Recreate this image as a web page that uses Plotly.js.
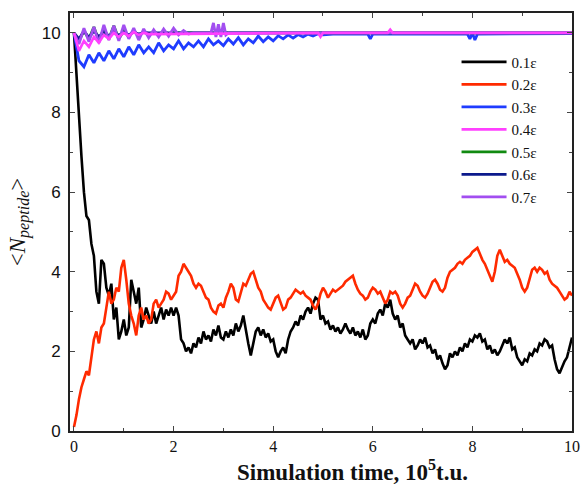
<!DOCTYPE html>
<html>
<head>
<meta charset="utf-8">
<script src="https://cdn.plot.ly/plotly-3.0.1.min.js"></script>
<style>html,body{margin:0;padding:0;background:#fff;}#chart{width:585px;height:490px;}</style>
</head>
<body>
<div id="chart"></div>
<script>
// Series labels
const seriesNames = ["0.1\u03b5","0.2\u03b5","0.3\u03b5","0.4\u03b5","0.5\u03b5","0.6\u03b5","0.7\u03b5"];
const seriesColors = ["#000000","#ff2a00","#1f3cff","#ff40ff","#118a11","#0c1a8c","#a24ef0"];

// 0.1 eps: sampled every 0.05 (10^5 t.u.) from 0 to 10
const black = [
10.0,8.9,7.9,6.9,6.0,5.4,5.3,4.7,4.4,3.5,
3.2,4.3,4.2,3.6,3.4,3.7,2.8,3.1,2.3,2.5,
2.8,2.4,2.6,3.8,3.5,3.2,3.6,2.6,2.8,3.1,
2.9,2.7,3.0,2.7,2.9,3.1,2.8,3.05,2.9,3.1,
2.9,3.1,2.9,2.3,2.2,2.0,2.1,1.95,2.2,2.1,
2.35,2.2,2.5,2.3,2.4,2.25,2.55,2.4,2.65,2.35,
2.3,2.5,2.35,2.55,2.4,2.7,2.5,2.65,2.9,2.5,
2.2,1.9,2.2,2.5,2.6,2.4,2.55,2.35,2.45,2.25,
2.3,2.0,1.85,2.0,2.1,1.95,2.3,2.5,2.6,2.75,
2.65,2.9,2.8,3.0,3.1,2.95,3.2,3.35,3.3,2.8,
2.9,2.7,2.75,2.55,2.65,2.5,2.6,2.45,2.55,2.7,
2.55,2.45,2.6,2.4,2.5,2.35,2.55,2.3,2.4,2.7,
2.8,2.7,2.95,3.05,2.9,3.2,3.1,3.3,2.95,2.8,
2.9,2.6,2.7,2.4,2.3,2.2,2.3,2.05,2.15,2.3,
2.2,2.35,2.1,2.15,1.95,2.05,1.8,1.9,1.7,1.55,
1.65,1.95,1.85,2.0,1.9,2.1,2.0,2.2,2.1,2.3,
2.25,2.4,2.35,2.45,2.25,2.3,2.05,2.15,1.95,2.05,
1.9,2.0,2.15,2.3,2.2,2.35,2.05,2.1,1.85,1.75,
1.65,1.8,1.75,1.95,1.9,2.05,2.0,2.2,2.15,2.3,
2.25,2.1,2.15,1.8,1.55,1.45,1.6,1.75,1.85,2.1,
2.35];

// 0.2 eps: sampled every 0.05 from 0 to 10
const red = [
0.1,0.4,0.8,1.1,1.3,1.5,1.4,1.9,2.3,2.5,
2.2,2.6,2.7,3.1,3.5,3.2,3.3,3.6,3.5,4.1,
4.3,3.8,3.2,2.9,2.7,2.4,2.9,3.1,2.8,2.9,
2.7,2.8,3.2,3.3,3.1,3.2,3.3,3.5,3.45,3.3,
3.4,3.5,3.9,4.0,4.2,4.1,4.0,3.9,3.7,3.6,
3.7,3.65,3.5,3.35,3.3,3.1,3.0,2.95,3.15,3.2,
3.1,3.35,3.5,3.7,3.6,3.3,3.25,3.5,3.7,3.65,
3.8,3.95,4.0,3.8,3.6,3.5,3.3,3.2,3.1,3.05,
3.2,3.35,3.4,3.2,3.05,3.1,3.3,3.35,3.45,3.55,
3.5,3.45,3.5,3.4,3.35,3.3,3.15,3.05,3.2,3.45,
3.6,3.5,3.35,3.45,3.55,3.5,3.55,3.6,3.65,3.75,
3.8,3.85,3.9,3.7,3.55,3.45,3.4,3.3,3.35,3.5,
3.6,3.55,3.45,3.5,3.35,3.2,3.3,3.5,3.45,3.5,
3.4,3.2,3.1,3.2,3.35,3.4,3.55,3.7,3.65,3.5,
3.4,3.35,3.45,3.6,3.75,3.8,3.7,3.55,3.5,3.6,
3.85,4.0,4.05,4.1,4.2,4.25,4.2,4.3,4.35,4.4,
4.5,4.55,4.6,4.45,4.3,4.2,4.05,3.9,3.75,4.0,
4.4,4.55,4.4,4.25,4.3,4.2,4.15,4.1,3.95,3.8,
3.6,3.5,3.6,3.85,4.05,4.1,4.0,4.1,4.05,3.95,
4.0,3.8,3.7,3.65,3.6,3.5,3.4,3.3,3.35,3.5,
3.4];

// 0.3 eps
const blueT = [0,0.1,0.2,0.3,0.4,0.5,0.6,0.7,0.8,0.9,1.0,1.1,1.2,1.3,1.4,1.5,1.6,1.7,1.8,1.9,2.0,
2.1,2.2,2.3,2.4,2.5,2.6,2.7,2.8,2.9,3.0,3.1,3.2,3.3,3.4,3.5,3.6,3.7,3.8,3.9,4.0,
4.1,4.2,4.3,4.4,4.5,4.6,4.7,4.8,4.9,5.0,5.2,5.9,5.95,6.0,7.9,7.95,8.0,8.05,8.1,10];
const blue = [10.0,9.3,9.15,9.45,9.25,9.5,9.3,9.55,9.35,9.6,9.4,9.65,9.45,9.7,9.5,9.65,9.5,9.75,9.55,9.7,9.6,
9.8,9.6,9.75,9.65,9.8,9.65,9.85,9.7,9.8,9.68,9.85,9.72,9.88,9.7,9.85,9.75,9.92,9.78,9.9,9.8,
9.93,9.85,9.95,9.87,9.96,9.9,9.97,9.92,9.98,9.95,9.97,9.97,9.85,9.97,9.97,9.85,10.0,9.82,9.97,9.98];

// 0.4 eps
const magT = [0,0.1,0.2,0.3,0.4,0.5,0.6,0.7,0.8,0.9,1.0,1.1,1.2,1.3,1.4,1.5,4.9,4.95,5.0,6.3,6.35,6.4,9.8,10];
const mag = [10.0,9.55,9.8,9.65,9.9,9.75,9.95,9.85,10.0,9.9,10.0,9.92,10.02,9.95,10.0,9.97,10.0,9.9,10.0,10.0,10.08,10.0,10.0,10.0];

// 0.5 eps
const greenT = [0,0.1,0.2,0.3,0.4,0.5,0.6,0.7,0.8,0.9,1.0,1.1,1.2,1.3,1.4,1.5,1.6,1.7,1.8,1.9,2.0,10];
const green = [10.0,9.8,10.05,9.85,10.15,9.8,10.1,9.85,10.18,9.85,10.05,9.9,10.05,9.92,10.04,9.95,10.03,9.96,10.02,9.98,10.0,10.0];

// 0.6 eps
const navyT = [0,0.1,0.2,0.3,0.4,0.5,0.6,0.7,0.8,0.9,1.0,1.1,1.2,1.3,1.4,1.5,10];
const navy = [10.0,9.85,10.05,9.88,10.05,9.9,10.04,9.92,10.03,9.94,10.02,9.95,10.02,9.97,10.01,10.0,10.0];

// 0.7 eps
const purpT = [0,0.1,0.2,0.3,0.4,0.5,0.6,0.7,0.8,0.9,1.0,1.1,1.2,1.3,1.4,1.5,1.6,1.7,1.8,1.9,2.0,2.1,2.2,2.3,2.4,
2.75,2.8,2.85,2.9,2.95,3.0,3.05,3.1,10];
const purp = [10.0,9.72,10.12,9.78,10.15,9.75,10.2,9.82,10.18,9.8,10.2,9.85,10.12,9.82,10.1,9.88,10.08,9.9,10.1,9.92,10.12,9.95,10.06,9.97,10.0,
10.0,10.25,9.9,10.22,9.9,10.25,9.95,10.0,10.0];

const xTicks = [0,2,4,6,8,10];
const yTicks = [0,2,4,6,8,10];
const xTitle = '<b>Simulation time, 10<sup>5</sup>t.u.</b>';
const yTitle = '&lt;<i>N</i><sub><i>peptide</i></sub>&gt;';

function tr(i, opts, w){
  return Object.assign({type:'scatter', mode:'lines', name:seriesNames[i], legendrank:i+1,
    line:{color:seriesColors[i], width:w}}, opts);
}
const traces = [
  tr(0,{x0:0, dx:0.05, y:black},2.6),
  tr(1,{x0:0, dx:0.05, y:red},2.6),
  tr(2,{x:blueT, y:blue},2.8),
  tr(4,{x:greenT, y:green},2.8),
  tr(5,{x:navyT, y:navy},2.8),
  tr(6,{x:purpT, y:purp},2.8),
  tr(3,{x:magT, y:mag},2.6)
];

const axisCommon = {
  showgrid:false, zeroline:false, showline:true, linecolor:'#222', linewidth:2,
  mirror:'allticks', ticks:'inside', ticklen:5, tickwidth:1, tickcolor:'#444'
};
const layout = {
  width:585, height:490,
  margin:{l:70, r:13, t:13, b:59},
  paper_bgcolor:'#fff', plot_bgcolor:'#fff',
  showlegend:true,
  legend:{x:0.77, y:0.922, xanchor:'left', yanchor:'top', bgcolor:'rgba(0,0,0,0)',
    itemwidth:45,
    font:{family:'Liberation Serif, Times New Roman, serif', size:15, color:'#111'},
    traceorder:'normal'},
  xaxis:Object.assign({}, axisCommon, {
    range:[-0.08,10], tickvals:xTicks, ticktext:xTicks.map(String),
    minor:{dtick:1, tick0:0, ticks:'inside', ticklen:3, tickcolor:'#444'},
    tickfont:{family:'Liberation Serif, Times New Roman, serif', size:16, color:'#111'}
  }),
  yaxis:Object.assign({}, axisCommon, {
    range:[0,10.5], tickvals:yTicks, ticktext:yTicks.map(String),
    minor:{dtick:1, tick0:0, ticks:'inside', ticklen:3, tickcolor:'#444'},
    tickfont:{family:'Liberation Sans, Arial, sans-serif', size:17, color:'#111'},
    ticklabelstandoff:4,
    title:{text:yTitle, standoff:10,
      font:{family:'Liberation Serif, Times New Roman, serif', size:23, color:'#111'}}
  }),
  annotations:[{
    text:xTitle, xref:'paper', yref:'paper', x:0.562, y:-0.095, xanchor:'center', yanchor:'middle',
    showarrow:false, font:{family:'Liberation Serif, Times New Roman, serif', size:23, color:'#111'}
  }]
};
Plotly.newPlot('chart', traces, layout, {displayModeBar:false, staticPlot:true});
</script>
</body>
</html>
